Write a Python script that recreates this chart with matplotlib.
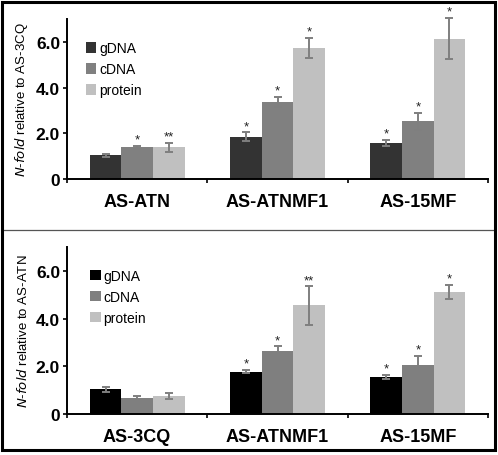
#!/usr/bin/env python
# coding: utf-8
#
# Two stacked grouped bar charts: N-fold of gDNA / cDNA / protein
# relative to a reference strain, with error bars and significance stars.

import numpy as np
import matplotlib
matplotlib.use('Agg')
import matplotlib.pyplot as plt
from matplotlib.patches import Rectangle
from matplotlib.lines import Line2D


# Data.
series = ['gDNA', 'cDNA', 'protein']

groups_top = ['AS-ATN', 'AS-ATNMF1', 'AS-15MF']
gdna_top = [1.03, 1.85, 1.57]
gdna_top_err = [0.08, 0.19, 0.13]
cdna_top = [1.39, 3.38, 2.52]
cdna_top_err = [0.06, 0.22, 0.37]
prot_top = [1.39, 5.72, 6.14]
prot_top_err = [0.19, 0.44, 0.90]
gdna_top_sig = ['', '*', '*']
cdna_top_sig = ['*', '*', '*']
prot_top_sig = ['**', '*', '*']

groups_bot = ['AS-3CQ', 'AS-ATNMF1', 'AS-15MF']
gdna_bot = [1.03, 1.77, 1.56]
gdna_bot_err = [0.10, 0.07, 0.08]
cdna_bot = [0.68, 2.66, 2.06]
cdna_bot_err = [0.08, 0.17, 0.37]
prot_bot = [0.74, 4.55, 5.12]
prot_bot_err = [0.12, 0.80, 0.30]
gdna_bot_sig = ['', '*', '*']
cdna_bot_sig = ['', '*', '*']
prot_bot_sig = ['', '**', '*']

yticks = [0, 2, 4, 6]
ytick_labels = ['0', '2.0', '4.0', '6.0']
#====================================================================================================


plt.rcParams['font.family'] = ['Liberation Sans', 'DejaVu Sans']

W, H = 498, 456
fig = plt.figure(figsize=(W/100, H/100), dpi=100)

# outer frame and divider
fig.patches.append(Rectangle((1.5/W, 1 - 450.5/H), 493/W, 447.5/H, transform=fig.transFigure,
                             fill=False, edgecolor='black', linewidth=2.2, zorder=10))
fig.lines.append(Line2D([2/W, 494/W], [1 - 230.5/H, 1 - 230.5/H], transform=fig.transFigure,
                        color='#555555', linewidth=0.9))


def draw_panel(ax, groups, vals, errs, sigs, colors, ref, leg_xy):
    x = np.arange(len(groups))
    w = 0.225
    for k in range(3):
        xs = x + (k - 1) * w
        ax.bar(xs, vals[k], width=w, color=colors[k], edgecolor='none', label=series[k], zorder=2)
        eb = ax.errorbar(xs, vals[k], yerr=errs[k], fmt='none', ecolor='#7f7f7f',
                         elinewidth=1.4, capsize=2.6, capthick=1.4, zorder=3)
        for art in eb.lines[1] + eb.lines[2]:
            art.set_clip_on(False)
        for xi, v, e, s in zip(xs, vals[k], errs[k], sigs[k]):
            if s:
                ax.annotate(s, (xi, v + e), xytext=(0, 0.3), textcoords='offset points',
                            ha='center', va='bottom', fontsize=9.5, color='#222222',
                            annotation_clip=False)

    ax.set_xlim(-0.5, 2.5)
    ax.set_ylim(0, 7)
    for sp in ['top', 'right']:
        ax.spines[sp].set_visible(False)
    ax.spines['left'].set_linewidth(1.4)
    ax.spines['bottom'].set_linewidth(1.4)

    ax.set_yticks(yticks)
    ax.set_yticklabels(ytick_labels, fontsize=12.5, fontweight='bold')
    ax.tick_params(axis='y', direction='out', length=3, width=1.2, pad=2)

    ax.set_xticks([-0.5, 0.5, 1.5, 2.5])
    ax.set_xticklabels([])
    ax.tick_params(axis='x', which='major', direction='out', length=3, width=1.2)
    ax.set_xticks(x, minor=True)
    ax.set_xticklabels(groups, minor=True, fontsize=13, fontweight='bold')
    ax.tick_params(axis='x', which='minor', length=0, pad=10)

    ax.set_ylabel('$\\it{N}$' + '-' + '$\\it{fold}$' + ' relative to ' + ref, fontsize=9.5, labelpad=4)
    ax.legend(loc='upper left', bbox_to_anchor=leg_xy, frameon=False, fontsize=10,
              handlelength=0.75, handleheight=0.75, handletextpad=0.2, labelspacing=0.5,
              borderpad=0, borderaxespad=0)


ax1 = fig.add_axes([67/W, 1 - 180/H, 421/W, 160/H])
draw_panel(ax1, groups_top,
           [gdna_top, cdna_top, prot_top],
           [gdna_top_err, cdna_top_err, prot_top_err],
           [gdna_top_sig, cdna_top_sig, prot_top_sig],
           ['#333333', '#808080', '#c0c0c0'], 'AS-3CQ', (0.045, 0.86))

ax2 = fig.add_axes([67/W, 1 - 415/H, 421/W, 167/H])
draw_panel(ax2, groups_bot,
           [gdna_bot, cdna_bot, prot_bot],
           [gdna_bot_err, cdna_bot_err, prot_bot_err],
           [gdna_bot_sig, cdna_bot_sig, prot_bot_sig],
           ['#000000', '#7f7f7f', '#c0c0c0'], 'AS-ATN', (0.055, 0.87))

plt.savefig('out.png', dpi=100)
plt.close()
